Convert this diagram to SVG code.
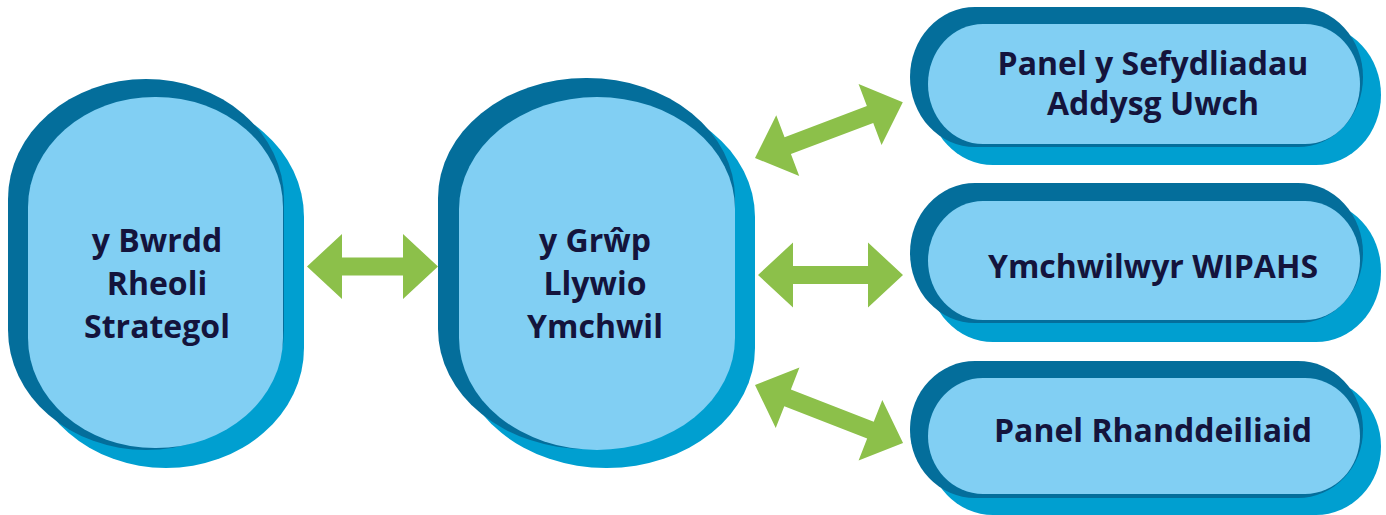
<svg xmlns="http://www.w3.org/2000/svg" width="1386" height="515" viewBox="0 0 1386 515">
<style>
.dark{fill:#046E9B}
.mid{fill:#009FD0}
.light{fill:#81CFF3}
.lbl{font-family:"Open Sans","Liberation Sans",sans-serif;font-weight:700;font-size:32px;fill:#14143C;text-anchor:middle}
.arrow{fill:#8CC04A}
</style>
<rect width="1386" height="515" fill="#FFFFFF"/>
<g id="connectors">
<path class="arrow" transform="translate(307,266.5)" d="M0,0 L35,-32.5 L35,-9 L96,-9 L96,-32.5 L131,0 L96,32.5 L96,9 L35,9 L35,32.5 Z"/>
<path class="arrow" transform="translate(758,275)" d="M0,0 L35,-32.5 L35,-9 L110,-9 L110,-32.5 L145,0 L110,32.5 L110,9 L35,9 L35,32.5 Z"/>
<path class="arrow" transform="translate(755,158) rotate(-20.7)" d="M0,0 L35,-32.5 L35,-9 L123,-9 L123,-32.5 L158,0 L123,32.5 L123,9 L35,9 L35,32.5 Z"/>
<path class="arrow" transform="translate(755,385) rotate(21.4)" d="M0,0 L35,-32.5 L35,-9 L124,-9 L124,-32.5 L159,0 L124,32.5 L124,9 L35,9 L35,32.5 Z"/>
</g>
<g id="node-bwrdd">
<rect class="mid" x="28" y="97" width="276" height="371" rx="138" ry="120"/>
<rect class="dark" x="8" y="79" width="276" height="371" rx="138" ry="120"/>
<rect class="light" x="28" y="97" width="255" height="351" rx="127" ry="110"/>
<text class="lbl" x="157" y="252">y Bwrdd</text>
<text class="lbl" x="157" y="295">Rheoli</text>
<text class="lbl" x="157" y="338">Strategol</text>
</g>
<g id="node-grwp">
<rect class="mid" x="458" y="97" width="297" height="371" rx="148" ry="120"/>
<rect class="dark" x="438" y="78" width="297" height="371" rx="148" ry="120"/>
<rect class="light" x="459" y="97" width="276" height="353" rx="138" ry="112"/>
<text class="lbl" x="595" y="252">y Grŵp</text>
<text class="lbl" x="595" y="295">Llywio</text>
<text class="lbl" x="595" y="338">Ymchwil</text>
</g>
<g id="node-sefydliadau">
<rect class="mid" x="928" y="25" width="453" height="140" rx="65" ry="70"/>
<rect class="dark" x="910" y="7" width="453" height="140" rx="65" ry="70"/>
<rect class="light" x="928" y="24" width="432" height="120" rx="55" ry="60"/>
<text class="lbl" x="1153" y="75">Panel y Sefydliadau</text>
<text class="lbl" x="1153" y="115">Addysg Uwch</text>
</g>
<g id="node-ymchwilwyr">
<rect class="mid" x="928" y="201" width="453" height="141" rx="65" ry="70"/>
<rect class="dark" x="910" y="183" width="453" height="140" rx="65" ry="70"/>
<rect class="light" x="928" y="201" width="432" height="119" rx="55" ry="60"/>
<text class="lbl" x="1153" y="278">Ymchwilwyr WIPAHS</text>
</g>
<g id="node-rhanddeiliaid">
<rect class="mid" x="928" y="378" width="453" height="137" rx="65" ry="68"/>
<rect class="dark" x="910" y="361" width="453" height="137" rx="65" ry="68"/>
<rect class="light" x="928" y="378" width="432" height="116" rx="55" ry="58"/>
<text class="lbl" x="1153" y="442">Panel Rhanddeiliaid</text>
</g>
</svg>
